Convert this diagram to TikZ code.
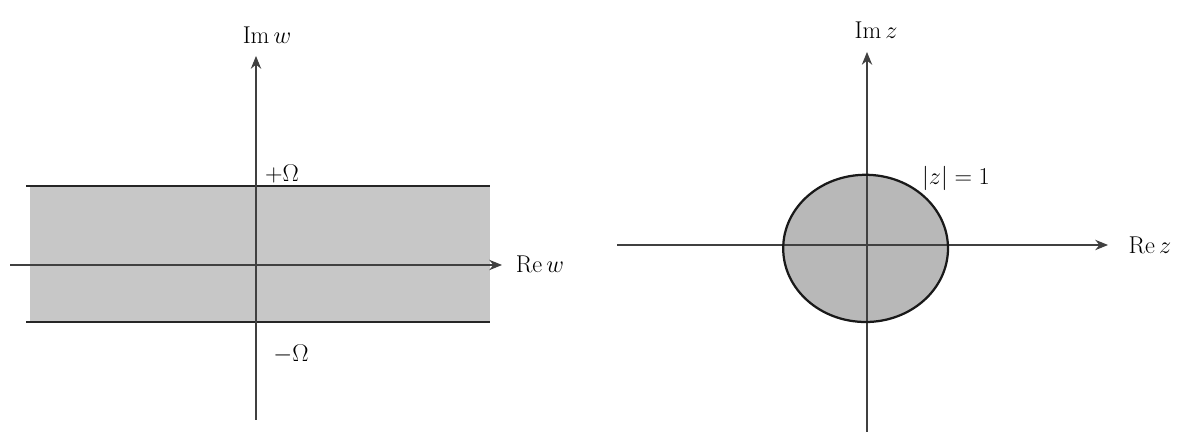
\documentclass[tikz,border=0pt]{standalone}
\usepackage{tikz}
\usetikzlibrary{arrows.meta, positioning}

\begin{document}
\begin{tikzpicture}[>={Stealth[length=3.2mm, width=2.6mm]}, x=1cm, y=1cm,
    axis/.style={->, line width=0.8pt, black!75},
    edge/.style={line width=0.9pt, black!85},
    lbl/.style={font=\LARGE, inner sep=0pt}]
  \useasboundingbox (0,0) rectangle (29.525,10.8);

  % w-plane
  \fill[black!22] (0.75,2.75) rectangle (12.25,6.15);
  \coordinate (sl) at (0.65,6.15);
  \coordinate (sr) at (12.25,6.15);
  \coordinate (tl) at (0.65,2.75);
  \coordinate (tr) at (12.25,2.75);
  \draw[edge] (sl) -- (sr);
  \draw[edge] (tl) -- (tr);

  \coordinate (wx0) at (0.25,4.175);
  \coordinate (wx1) at (12.55,4.175);
  \coordinate (wy0) at (6.4,0.3);
  \coordinate (wy1) at (6.4,9.4);
  \draw[axis] (wx0) -- (wx1);
  \draw[axis] (wy0) -- (wy1);

  \node[lbl] (imw) at (6.675,9.925) {$\mathrm{Im}\,w$};
  \node[lbl] (rew) at (13.5,4.2) {$\mathrm{Re}\,w$};
  \node[lbl] (pom) at (7.05,6.45) {$+\Omega$};
  \node[lbl] (mom) at (7.275,1.95) {$-\Omega$};

  % z-plane
  \fill[black!28] (21.64,4.59) ellipse [x radius=2.06, y radius=1.84];

  \coordinate (zx0) at (15.425,4.675);
  \coordinate (zx1) at (27.7,4.675);
  \coordinate (zy0) at (21.675,0);
  \coordinate (zy1) at (21.675,9.5);
  \draw[axis] (zx0) -- (zx1);
  \draw[axis] (zy0) -- (zy1);

  \draw[line width=1.6pt, black!90] (21.64,4.59) ellipse [x radius=2.06, y radius=1.84];

  \node[lbl] (imz) at (21.9,10.05) {$\mathrm{Im}\,z$};
  \node[lbl] (rez) at (28.75,4.675) {$\mathrm{Re}\,z$};
  \node[lbl] (unit) at (23.9,6.35) {$|z|=1$};
\end{tikzpicture}
\end{document}
